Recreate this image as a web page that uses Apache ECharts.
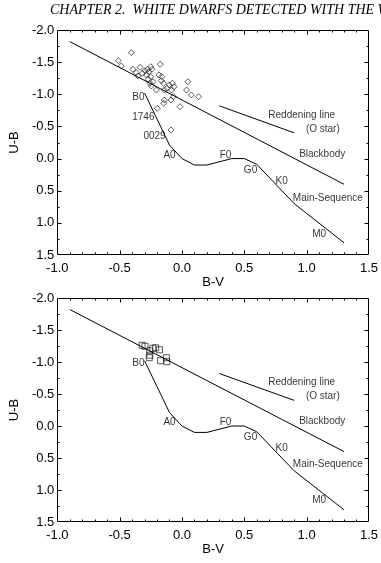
<!DOCTYPE html>
<html>
<head>
<meta charset="utf-8">
<script src="https://cdn.jsdelivr.net/npm/echarts@6/dist/echarts.min.js"></script>
<style>
  html, body { margin: 0; padding: 0; background: #fff; }
  #chart { width: 381px; height: 563px; }
</style>
</head>
<body>
<div id="chart"></div>
<script>
// B-V / U-B colour-colour diagrams
const xTickLabels = ['-1.0', '-0.5', '0.0', '0.5', '1.0', '1.5'];
const yTickLabels = ['-2.0', '-1.5', '-1.0', '-0.5', '0.0', '0.5', '1.0', '1.5'];
const xRange = [-1, 1.5];
const yRange = [-2, 1.5];

const blackbody = [[-0.9, -1.82], [1.3, 0.4]];
const reddening = [[0.3, -0.82], [0.9, -0.4]];
const mainSequence = [
  [-0.30, -1.02], [-0.10, -0.21], [0.0, 0.0], [0.10, 0.10], [0.20, 0.10],
  [0.40, 0.0], [0.50, 0.0], [0.60, 0.09], [0.90, 0.70], [1.30, 1.31]
];

// white dwarfs, top panel (diamonds)
const dwarfsTop = [
  [-0.406, -1.647], [-0.510, -1.523], [-0.487, -1.440], [-0.393, -1.389],
  [-0.367, -1.336], [-0.354, -1.285], [-0.336, -1.420], [-0.318, -1.327],
  [-0.297, -1.367], [-0.284, -1.300], [-0.276, -1.389], [-0.266, -1.351],
  [-0.250, -1.429], [-0.240, -1.389], [-0.271, -1.233], [-0.250, -1.274],
  [-0.258, -1.171], [-0.245, -1.129], [-0.232, -1.196], [-0.205, -1.067],
  [-0.174, -1.467], [-0.185, -1.300], [-0.162, -1.274], [-0.166, -1.212],
  [-0.148, -1.171], [-0.141, -1.067], [-0.120, -1.093], [-0.102, -1.145],
  [-0.076, -1.171], [-0.063, -1.118], [-0.084, -1.067], [-0.068, -0.963],
  [-0.141, -0.911], [-0.146, -0.860], [-0.088, -0.911], [-0.198, -0.782],
  [-0.016, -0.807], [-0.088, -0.445], [0.047, -1.196], [0.037, -1.067],
  [0.076, -0.989], [0.133, -0.963]
];

// white dwarfs, bottom panel (squares)
const dwarfsBottom = [
  [-0.320, -1.261], [-0.297, -1.246], [-0.258, -1.176], [-0.234, -1.215],
  [-0.211, -1.222], [-0.180, -1.191], [-0.258, -1.106], [-0.262, -1.067],
  [-0.172, -1.020], [-0.125, -1.067], [-0.121, -1.005]
];

const labelsTop = [
  [-0.35, -0.96, 'B0'], [-0.31, -0.65, '1746'], [-0.22, -0.34, '0029'],
  [-0.10, -0.045, 'A0'], [0.35, -0.045, 'F0'], [0.55, 0.18, 'G0'],
  [0.80, 0.35, 'K0'], [1.17, 0.61, 'Main-Sequence'], [1.10, 1.17, 'M0'],
  [1.125, -0.06, 'Blackbody'], [0.96, -0.67, 'Reddening line'], [1.13, -0.46, '(O star)']
];
const labelsBottom = [
  [-0.35, -0.98, 'B0'],
  [-0.10, -0.06, 'A0'], [0.35, -0.06, 'F0'], [0.55, 0.17, 'G0'],
  [0.80, 0.34, 'K0'], [1.17, 0.60, 'Main-Sequence'], [1.10, 1.16, 'M0'],
  [1.125, -0.07, 'Blackbody'], [0.96, -0.68, 'Reddening line'], [1.13, -0.47, '(O star)']
];

const font = 'Liberation Sans, Arial, Helvetica, sans-serif';
const black = '#000';

function xAxis(gridIndex) {
  return {
    gridIndex, type: 'value', position: 'bottom',
    min: xRange[0], max: xRange[1], interval: 0.5,
    splitLine: { show: false }, axisLine: { show: false }, axisTick: { show: false },
    name: 'B-V', nameLocation: 'middle', nameGap: 21,
    nameTextStyle: { fontFamily: font, fontSize: 13, color: black },
    axisLabel: {
      margin: 7, fontFamily: font, fontSize: 13, color: black,
      formatter: v => xTickLabels[Math.round((v - xRange[0]) / 0.5)]
    }
  };
}

function yAxis(gridIndex) {
  return {
    gridIndex, type: 'value', position: 'left', inverse: true,
    min: yRange[0], max: yRange[1], interval: 0.5,
    splitLine: { show: false }, axisLine: { show: false }, axisTick: { show: false },
    name: 'U-B', nameLocation: 'middle', nameGap: 32, nameRotate: 90,
    nameTextStyle: { fontFamily: font, fontSize: 13, color: black },
    axisLabel: {
      margin: 3, fontFamily: font, fontSize: 13, color: black,
      formatter: v => yTickLabels[Math.round((v - yRange[0]) / 0.5)]
    }
  };
}

// box with inward major/minor ticks on all four sides (IDL style)
function frameSeries(axis) {
  return {
    type: 'custom', xAxisIndex: axis, yAxisIndex: axis, data: [[0, 0]],
    silent: true, clip: false, z: 3,
    renderItem: (params, api) => {
      const tl = api.coord([xRange[0], yRange[0]]);
      const br = api.coord([xRange[1], yRange[1]]);
      const L = Math.round(tl[0]) + 0.5, T = Math.round(tl[1]) + 0.5;
      const R = Math.round(br[0]) - 0.5, B = Math.round(br[1]) - 0.5;
      const children = [{
        type: 'rect', shape: { x: L, y: T, width: R - L, height: B - T },
        style: { fill: 'none', stroke: black, lineWidth: 1 }
      }];
      const tick = (x1, y1, x2, y2) => children.push({
        type: 'line', shape: { x1, y1, x2, y2 }, style: { stroke: black, lineWidth: 1 }
      });
      for (let i = 1; i < 25; i++) {
        const len = i % 5 === 0 ? 4 : 2;
        const px = Math.round(api.coord([xRange[0] + i * 0.1, yRange[0]])[0]) + 0.5;
        tick(px, B, px, B - len);
        tick(px, T, px, T + len);
      }
      for (let i = 1; i < 14; i++) {
        const len = i % 2 === 0 ? 4 : 2;
        const py = Math.round(api.coord([xRange[0], yRange[0] + i * 0.25])[1]) + 0.5;
        tick(L, py, L + len, py);
        tick(R, py, R - len, py);
      }
      return { type: 'group', children };
    }
  };
}

function lineSeries(data, axis) {
  return {
    type: 'line', data, xAxisIndex: axis, yAxisIndex: axis,
    showSymbol: false, symbol: 'none',
    lineStyle: { color: black, width: 1 }
  };
}

function panelSeries(axis, dwarfs, symbol, size, labels) {
  return [
    frameSeries(axis),
    lineSeries(blackbody, axis),
    lineSeries(reddening, axis),
    lineSeries(mainSequence, axis),
    {
      type: 'scatter', data: dwarfs, xAxisIndex: axis, yAxisIndex: axis,
      symbol, symbolSize: size,
      itemStyle: { color: 'rgba(255,255,255,0)', borderColor: black, borderWidth: 0.8 }
    },
    {
      type: 'scatter', data: labels, xAxisIndex: axis, yAxisIndex: axis,
      symbolSize: 1, itemStyle: { color: 'rgba(0,0,0,0)' },
      label: {
        show: true, position: 'inside', fontFamily: font, fontSize: 10, color: black,
        formatter: p => p.data[2]
      }
    }
  ];
}

const chart = echarts.init(document.getElementById('chart'));
chart.setOption({
  animation: false,
  graphic: [{
    type: 'text', left: 50, top: 3,
    style: {
      text: 'CHAPTER 2.  WHITE DWARFS DETECTED WITH THE W',
      fontFamily: 'Liberation Serif, Times New Roman, serif',
      fontStyle: 'italic', fontSize: 14, fill: black
    }
  }],
  grid: [
    { left: 50, top: 30, width: 320, height: 225 },
    { left: 50, top: 298, width: 320, height: 224 }
  ],
  xAxis: [xAxis(0), xAxis(1)],
  yAxis: [yAxis(0), yAxis(1)],
  series: [
    ...panelSeries(0, dwarfsTop, 'diamond', 6, labelsTop),
    ...panelSeries(1, dwarfsBottom, 'rect', 6, labelsBottom)
  ]
});
</script>
</body>
</html>
